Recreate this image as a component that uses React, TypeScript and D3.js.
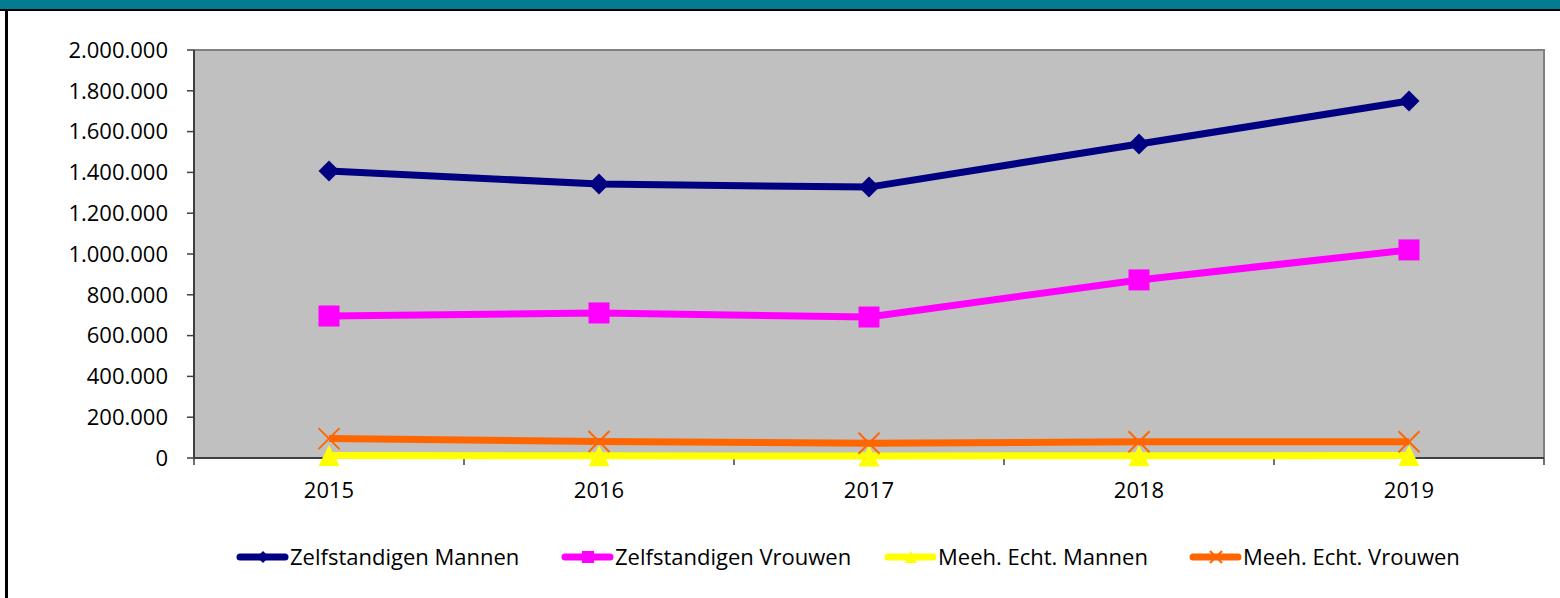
import { useEffect, useRef } from 'react'
import * as d3 from 'd3'

const years = ['2015', '2016', '2017', '2018', '2019']
const zelfstandigenMannen = [1407000, 1343000, 1328000, 1539000, 1750000]
const zelfstandigenVrouwen = [696000, 711000, 691000, 873000, 1020000]
const meehEchtMannen = [12000, 11000, 10000, 11000, 12000]
const meehEchtVrouwen = [95000, 81000, 72000, 80000, 80000]
const yTicks = [0, 200000, 400000, 600000, 800000, 1000000, 1200000, 1400000, 1600000, 1800000, 2000000]

const seriesNames = ['Zelfstandigen Mannen', 'Zelfstandigen Vrouwen', 'Meeh. Echt. Mannen', 'Meeh. Echt. Vrouwen']
const seriesColors = ['#000080', '#FF00FF', '#FFFF00', '#FF6600']
const seriesMarkers = ['diamond', 'square', 'triangle', 'cross']

const FONT = '"Open Sans", Lato, sans-serif'

function drawMarker(g: any, kind: string, x: number, y: number, r: number, color: string) {
    if (kind === 'diamond') {
        g.append('path')
            .attr('d', `M${x},${y - r}L${x + r},${y}L${x},${y + r}L${x - r},${y}Z`)
            .attr('fill', color)
    } else if (kind === 'square') {
        g.append('rect')
            .attr('x', x - r)
            .attr('y', y - r)
            .attr('width', 2 * r)
            .attr('height', 2 * r)
            .attr('fill', color)
    } else if (kind === 'triangle') {
        g.append('path')
            .attr('d', `M${x},${y - r}L${x + r},${y + r}L${x - r},${y + r}Z`)
            .attr('fill', color)
    } else {
        g.append('path')
            .attr('d', `M${x - r},${y - r}L${x + r},${y + r}M${x + r},${y - r}L${x - r},${y + r}`)
            .attr('stroke', color)
            .attr('stroke-width', 2)
            .attr('fill', 'none')
    }
}

function App() {
    const ref = useRef<SVGSVGElement>(null)

    useEffect(() => {
        const svg = d3.select(ref.current)
        svg.selectAll('*').remove()

        const width = 1560
        const height = 598
        const plot = { left: 194, right: 1544, top: 50, bottom: 458 }

        // frame
        svg.append('rect').attr('x', 0).attr('y', 0).attr('width', width).attr('height', height).attr('fill', '#ffffff')
        svg.append('rect').attr('x', 0).attr('y', 0).attr('width', width).attr('height', 9).attr('fill', '#037C92')
        svg.append('rect').attr('x', 0).attr('y', 9).attr('width', width).attr('height', 2).attr('fill', '#000000')
        svg.append('rect').attr('x', 5).attr('y', 9).attr('width', 3).attr('height', height - 9).attr('fill', '#000000')

        const xScale = d3
            .scaleBand()
            .domain(years)
            .range([plot.left, plot.right])
        const yScale = d3
            .scaleLinear()
            .domain([0, 2000000])
            .range([plot.bottom, plot.top])

        // plot area
        svg.append('rect')
            .attr('x', plot.left)
            .attr('y', plot.top)
            .attr('width', plot.right - plot.left)
            .attr('height', plot.bottom - plot.top)
            .attr('fill', '#C0C0C0')
        svg.append('path')
            .attr('d', `M${plot.left},${plot.top}H${plot.right}V${plot.bottom}`)
            .attr('fill', 'none')
            .attr('stroke', '#808080')
            .attr('stroke-width', 2)

        const fmt = (v: number) => d3.format(',')(v).replace(/,/g, '.')

        // y axis
        const yAxis = svg.append('g')
        yAxis.append('line')
            .attr('x1', plot.left).attr('x2', plot.left)
            .attr('y1', plot.top).attr('y2', plot.bottom)
            .attr('stroke', '#404040').attr('stroke-width', 2)
        yTicks.forEach(t => {
            yAxis.append('line')
                .attr('x1', plot.left - 7).attr('x2', plot.left)
                .attr('y1', yScale(t)).attr('y2', yScale(t))
                .attr('stroke', '#404040').attr('stroke-width', 1.5)
            yAxis.append('text')
                .attr('x', 168)
                .attr('y', yScale(t))
                .attr('dy', '0.35em')
                .attr('text-anchor', 'end')
                .style('font-family', FONT)
                .style('font-size', '22px')
                .attr('fill', '#000')
                .text(fmt(t))
        })

        // x axis
        const xAxis = svg.append('g')
        xAxis.append('line')
            .attr('x1', plot.left).attr('x2', plot.right)
            .attr('y1', plot.bottom).attr('y2', plot.bottom)
            .attr('stroke', '#404040').attr('stroke-width', 2)
        const bounds = years.map(y => xScale(y) as number).concat([plot.right])
        bounds.forEach(b => {
            xAxis.append('line')
                .attr('x1', b).attr('x2', b)
                .attr('y1', plot.bottom).attr('y2', plot.bottom + 7)
                .attr('stroke', '#404040').attr('stroke-width', 1.5)
        })
        years.forEach(y => {
            xAxis.append('text')
                .attr('x', (xScale(y) as number) + xScale.bandwidth() / 2)
                .attr('y', 498)
                .attr('text-anchor', 'middle')
                .style('font-family', FONT)
                .style('font-size', '22px')
                .attr('fill', '#000')
                .text(y)
        })

        const allSeries = [zelfstandigenMannen, zelfstandigenVrouwen, meehEchtMannen, meehEchtVrouwen]
        const line = d3
            .line<number>()
            .x((d, i) => (xScale(years[i]) as number) + xScale.bandwidth() / 2)
            .y(d => yScale(d))

        allSeries.forEach((values, s) => {
            const g = svg.append('g')
            g.append('path')
                .datum(values)
                .attr('d', line)
                .attr('fill', 'none')
                .attr('stroke', seriesColors[s])
                .attr('stroke-width', 7)
            values.forEach((v, i) => {
                const cx = (xScale(years[i]) as number) + xScale.bandwidth() / 2
                drawMarker(g, seriesMarkers[s], cx, yScale(v), 10.5, seriesColors[s])
            })
        })

        // legend
        const legendX = [237, 562, 885, 1190]
        const legendY = 557
        seriesNames.forEach((name, s) => {
            const g = svg.append('g')
            const x0 = legendX[s]
            g.append('line')
                .attr('x1', x0 + 3).attr('x2', x0 + 48)
                .attr('y1', legendY).attr('y2', legendY)
                .attr('stroke', seriesColors[s])
                .attr('stroke-width', 7)
                .attr('stroke-linecap', 'round')
            drawMarker(g, seriesMarkers[s], x0 + 26, legendY, 6, seriesColors[s])
            g.append('text')
                .attr('x', x0 + 53)
                .attr('y', legendY)
                .attr('dy', '0.35em')
                .style('font-family', FONT)
                .style('font-size', '22px')
                .attr('fill', '#000')
                .text(name)
        })
    })

    return (
        <svg
            ref={ref}
            width={1560}
            height={598}
            style={{ position: 'absolute', left: 0, top: 0 }}
        />
    )
}

export default App
